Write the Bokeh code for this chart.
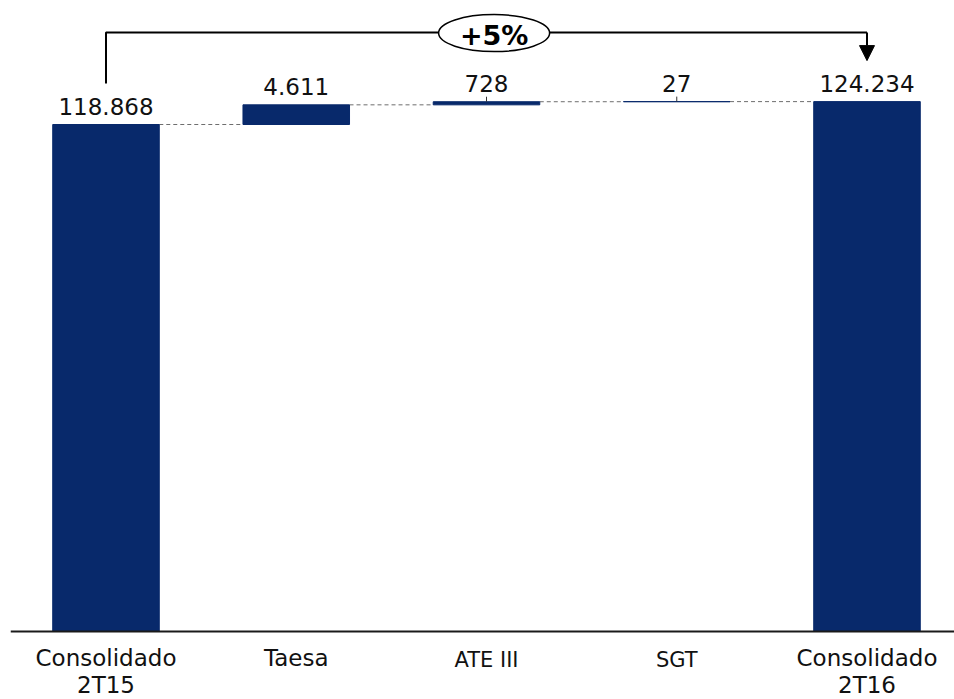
from bokeh.plotting import figure
from bokeh.models import ColumnDataSource, Range1d, Span, Arrow, NormalHead
from bokeh.core.properties import value
from bokeh.embed import file_html
from bokeh.resources import INLINE

# ---- data ----
categories = ["Consolidado\n2T15", "Taesa", "ATE III", "SGT", "Consolidado\n2T16"]
start_value = 118868
deltas = [4611, 728, 27]
end_value = 124234

# ---- derived ----
def fmt(v):
    return f"{v:,}".replace(",", ".")

xs = list(range(len(categories)))
bottoms, tops, vals = [0], [start_value], [start_value]
cum = start_value
for d in deltas:
    bottoms.append(cum)
    cum += d
    tops.append(cum)
    vals.append(d)
bottoms.append(0)
tops.append(end_value)
vals.append(end_value)
labels = [fmt(v) for v in vals]
growth = f"+{round((end_value / start_value - 1) * 100)}%"

# ---- layout ----
W, H = 954, 699
LEFT = 10
PX = 507 / 118868.0          # pixels per data unit
BASE = 631                   # baseline, pixels from frame top
STEP = 190.25                # pixels per category
C0 = 105.5 - LEFT            # first category centre inside frame
def px(n):
    return n / PX

NAVY = "#08296B"
FONT = value("DejaVu Sans")
BW = 0.56

p = figure(width=W, height=H, output_backend="svg", toolbar_location=None,
           x_axis_type=None, y_axis_type=None,
           x_range=Range1d(-C0 / STEP, (W - LEFT - C0) / STEP),
           y_range=Range1d(-px(H - BASE), px(BASE)),
           min_border_left=LEFT, min_border_right=0, min_border_top=0, min_border_bottom=0)
p.outline_line_color = None
p.background_fill_color = "white"

src = ColumnDataSource(dict(x=xs, bottom=bottoms, top=tops, label=labels,
                            ly=[t + px(18.5) for t in tops]))

# connectors
x0 = [xs[i] + BW / 2 for i in range(len(xs) - 1)]
x1 = [xs[i + 1] - BW / 2 for i in range(len(xs) - 1)]
yc = [tops[i] for i in range(len(xs) - 1)]
p.segment(x0=x0, y0=yc, x1=x1, y1=yc, line_color="#6e6e6e", line_width=1, line_dash="4 3")

# bars
p.vbar(x="x", bottom="bottom", top="top", width=BW, source=src,
       fill_color=NAVY, line_color=NAVY, line_width=1)

# leader ticks for the thin bars
thin = [2, 3]
p.segment(x0=[xs[i] for i in thin], y0=[tops[i] for i in thin],
          x1=[xs[i] for i in thin], y1=[tops[i] + px(5) for i in thin],
          line_color="#333333", line_width=1)

# baseline
p.add_layout(Span(location=0, dimension="width", line_color="#1a1a1a", line_width=2))

# value labels
p.text(x="x", y="ly", text="label", source=src,
       text_align="center", text_baseline="alphabetic",
       text_font=FONT, text_font_size="23px", text_color="#111111")

# category labels
big = [0, 1, 4]
small = [2, 3]
p.text(x=[xs[i] for i in big], y=[-px(13)] * len(big), text=[categories[i] for i in big],
       text_align="center", text_baseline="top", text_line_height=1.05,
       text_font=FONT, text_font_size="23px", text_color="#111111")
p.text(x=[xs[i] for i in small], y=[-px(16.5)] * len(small), text=[categories[i] for i in small],
       text_align="center", text_baseline="top",
       text_font=FONT, text_font_size="21px", text_color="#111111")

# growth bracket
lvl = end_value + px(69)
p.line(x=[xs[0], xs[0], xs[-1]], y=[start_value + px(41), lvl, lvl],
       line_color="black", line_width=2)
p.add_layout(Arrow(end=NormalHead(size=15, fill_color="black", line_color="black"),
                   x_start=xs[-1], y_start=lvl, x_end=xs[-1], y_end=end_value + px(41),
                   line_color="black", line_width=2))
cx = (xs[0] + xs[-1]) / 2 + 0.04
p.ellipse(x=[cx], y=[end_value + px(68.5)], width=111, height=37,
          width_units="screen", height_units="screen",
          fill_color="white", line_color="black", line_width=1.5)
p.text(x=[cx], y=[end_value + px(66.5)], text=[growth],
       text_align="center", text_baseline="middle",
       text_font=FONT, text_font_style="bold", text_font_size="27px", text_color="black")

open("out.html", "w").write(file_html(p, INLINE))
